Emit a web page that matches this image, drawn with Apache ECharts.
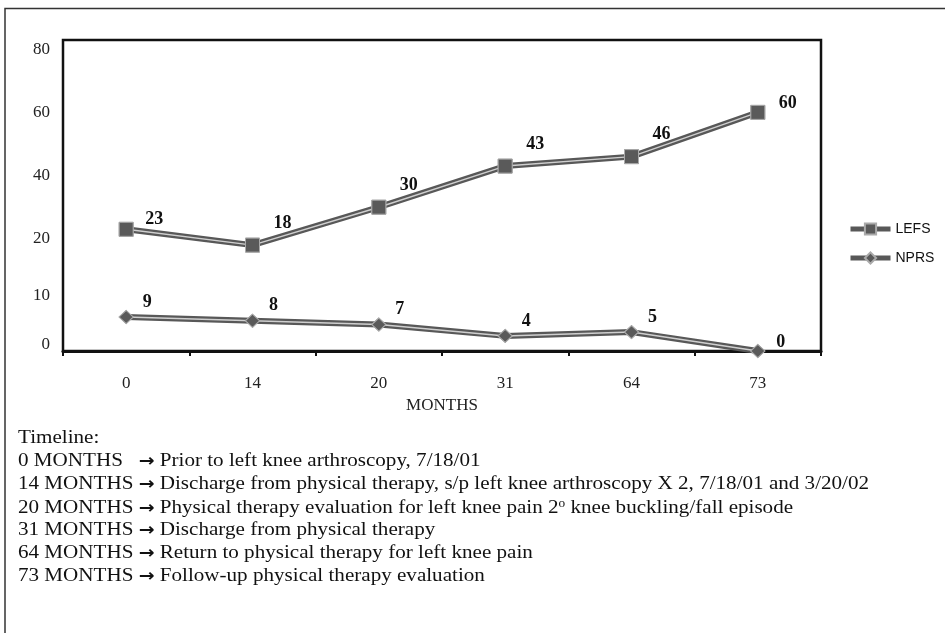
<!DOCTYPE html>
<html>
<head>
<meta charset="utf-8">
<script src="https://cdn.jsdelivr.net/npm/echarts@6/dist/echarts.min.js"></script>
<style>
  html, body { margin: 0; padding: 0; background: #fff; }
  #chart { width: 945px; height: 633px; }
</style>
</head>
<body>
<div id="chart"></div>
<script>
// data
const months = ['0', '14', '20', '31', '64', '73'];
const lefs = [23, 18, 30, 43, 46, 60];
const nprs = [9, 8, 7, 4, 5, 0];

// the left axis of the original is not evenly spaced; labels sit at these LEFS-scale values
const yTickValues = [-13.6, 1.9, 20, 40, 60, 80];
const yTickLabels = ['0', '10', '20', '40', '60', '80'];

const timelineTitle = 'Timeline:';
const timelineMonths = ['0 MONTHS   ', '14 MONTHS ', '20 MONTHS ', '31 MONTHS ', '64 MONTHS ', '73 MONTHS '];
const timelineText = [
    'Prior to left knee arthroscopy, 7/18/01',
    'Discharge from physical therapy, s/p left knee arthroscopy X 2, 7/18/01 and 3/20/02',
    'Physical therapy evaluation for left knee pain 2{sup|o} knee buckling/fall episode',
    'Discharge from physical therapy',
    'Return to physical therapy for left knee pain',
    'Follow-up physical therapy evaluation'
];

const serif = '"Liberation Serif", "Times New Roman", serif';

// label nudges for the end points, which sit lower than the rest
function withLabelNudge(values, firstOff, lastOff) {
    return values.map((v, i) => {
        if (i === 0 && firstOff) return { value: v, label: { offset: firstOff } };
        if (i === values.length - 1 && lastOff) return { value: v, label: { offset: lastOff } };
        return v;
    });
}

// each series is drawn as a dark line, a light centre line, then the markers on top
function doubleLine(name, values, axis, symbol, symbolSize, offset, firstOff, lastOff) {
    return [
        {
            name: name,
            type: 'line',
            yAxisIndex: axis,
            data: withLabelNudge(values, firstOff, lastOff),
            symbol: symbol,
            symbolSize: symbolSize,
            z: 2,
            lineStyle: { color: '#585858', width: 6 },
            itemStyle: { color: '#5a5a5a', borderColor: '#aaa', borderWidth: 1 },
            label: {
                show: true,
                position: 'inside',
                offset: offset,
                fontFamily: serif,
                fontWeight: 'bold',
                fontSize: 18,
                color: '#111'
            },
            animation: false
        },
        {
            name: name + '-hl',
            type: 'line',
            yAxisIndex: axis,
            data: values,
            symbol: 'none',
            silent: true,
            z: 3,
            lineStyle: { color: '#cfcfcf', width: 1.5 },
            animation: false
        },
        {
            name: name + '-mk',
            type: 'line',
            yAxisIndex: axis,
            data: values,
            symbol: symbol,
            symbolSize: symbolSize,
            silent: true,
            z: 4,
            lineStyle: { width: 0, opacity: 0 },
            itemStyle: { color: '#5a5a5a', borderColor: '#aaa', borderWidth: 1 },
            animation: false
        }
    ];
}

// the timeline text in the original is a little wider than plain Times
const textStretch = 1.11;
const graphics = [
    {
        type: 'polyline',
        shape: { points: [[5, 633], [5, 8.5], [945, 8.5]] },
        style: { stroke: '#333', lineWidth: 1.5, fill: null }
    },
    {
        type: 'text', left: 18, top: 429, scaleX: textStretch,
        style: { text: timelineTitle, font: '19px ' + serif, fill: '#111' }
    }
];
timelineMonths.forEach((m, i) => {
    graphics.push({
        type: 'text',
        left: 18,
        top: 452 + i * 23,
        scaleX: textStretch,
        style: {
            text: m + '{arrow|\u2192} ' + timelineText[i],
            font: '19px ' + serif,
            fill: '#111',
            rich: {
                arrow: { fontFamily: '"DejaVu Sans", sans-serif', fontWeight: 'bold', fontSize: 17, fill: '#111' },
                sup: { fontFamily: serif, fontSize: 12, fill: '#111', padding: [0, 0, 9, 0] }
            }
        }
    });
});

const chart = echarts.init(document.getElementById('chart'));
chart.setOption({
    animation: false,
    backgroundColor: '#fff',
    graphic: graphics,
    grid: {
        left: 63, right: 124, top: 40, bottom: 282,
        show: true, borderColor: '#111', borderWidth: 2.5, backgroundColor: 'transparent'
    },
    legend: {
        data: ['LEFS', 'NPRS'],
        orient: 'vertical',
        left: 843,
        top: 217,
        itemWidth: 40,
        itemHeight: 14,
        itemGap: 15,
        lineStyle: { width: 5 },
        textStyle: { fontFamily: '"Liberation Sans", Arial, sans-serif', fontSize: 14, color: '#111' }
    },
    xAxis: {
        type: 'category',
        data: months,
        boundaryGap: true,
        name: 'MONTHS',
        nameLocation: 'middle',
        nameGap: 46,
        nameTextStyle: { fontFamily: serif, fontSize: 17, color: '#222' },
        axisLine: { onZero: false, lineStyle: { color: '#111', width: 3 } },
        axisTick: { show: true, length: 5, lineStyle: { color: '#111', width: 2 } },
        axisLabel: { fontFamily: serif, fontSize: 17, color: '#222', margin: 24 },
        splitLine: { show: false }
    },
    yAxis: [
        {
            type: 'value',
            min: -15.5,
            max: 82.9,
            axisLine: { show: false },
            axisTick: { show: false },
            splitLine: { show: false },
            axisLabel: {
                customValues: yTickValues,
                formatter: v => yTickLabels[yTickValues.indexOf(v)],
                fontFamily: serif,
                fontSize: 17,
                color: '#222',
                margin: 13
            }
        },
        {
            type: 'value',
            min: 0,
            max: 82.3,
            show: false
        }
    ],
    series: [].concat(
        doubleLine('LEFS', lefs, 0, 'rect', 14, [30, -22], [28, -10], [30, -9]),
        doubleLine('NPRS', nprs, 1, 'diamond', [14, 13], [21, -15], null, [23, -9])
    )
});
</script>
</body>
</html>
